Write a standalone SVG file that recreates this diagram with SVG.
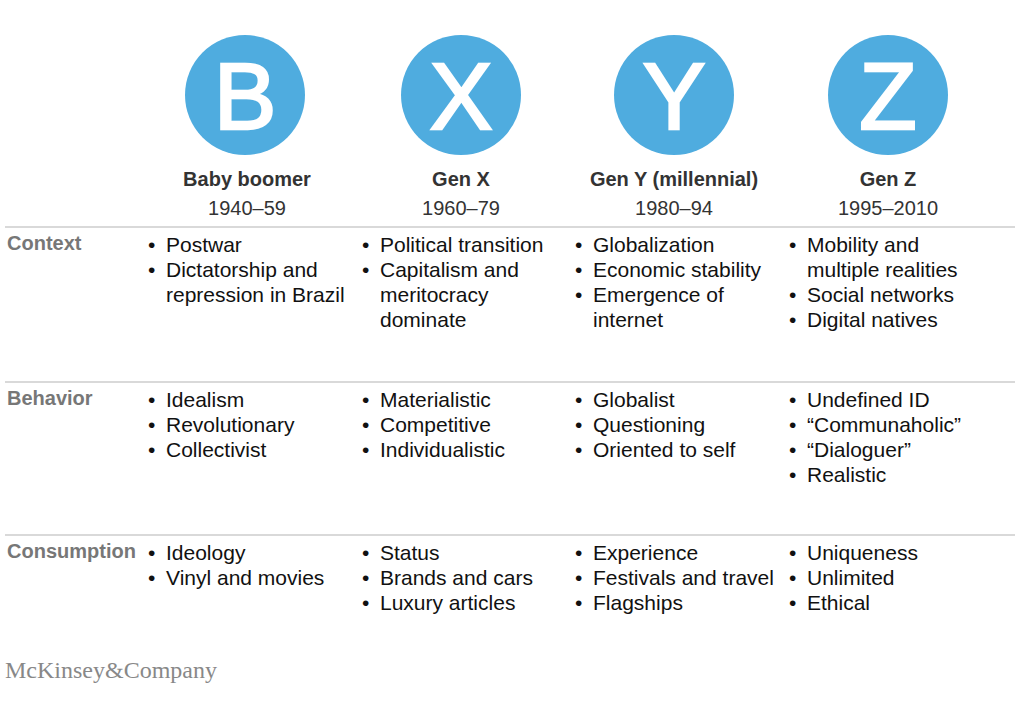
<svg xmlns="http://www.w3.org/2000/svg" width="1024" height="703" viewBox="0 0 1024 703">
<style>
.c{fill:#4facdf}
.L{font-family:"Liberation Sans",Arial,sans-serif;font-size:94px;fill:#fff;text-anchor:middle;stroke:#fff;stroke-width:2.5}
.h{font-family:"Liberation Sans",Arial,sans-serif;font-size:20px;font-weight:bold;fill:#333;text-anchor:middle}
.y{font-family:"Liberation Sans",Arial,sans-serif;font-size:20px;fill:#333;text-anchor:middle}
.r{font-family:"Liberation Sans",Arial,sans-serif;font-size:20px;fill:#777;font-weight:bold}
.t text{font-family:"Liberation Sans",Arial,sans-serif;font-size:21px;fill:#111}
.ln{stroke:#ccc;stroke-width:1.5}
</style>
<rect width="1024" height="703" fill="#fff"/>
<g id="gen-b"><circle class="c" cx="245" cy="95" r="60"/><text class="L" x="245" y="129">B</text><text class="h" x="247" y="186">Baby boomer</text><text class="y" x="247" y="215">1940–59</text></g>
<g id="gen-x"><circle class="c" cx="461" cy="95" r="60"/><text class="L" x="461" y="129">X</text><text class="h" x="461" y="186">Gen X</text><text class="y" x="461" y="215">1960–79</text></g>
<g id="gen-y"><circle class="c" cx="674" cy="95" r="60"/><text class="L" x="674" y="129">Y</text><text class="h" x="674" y="186">Gen Y (millennial)</text><text class="y" x="674" y="215">1980–94</text></g>
<g id="gen-z"><circle class="c" cx="888" cy="95" r="60"/><text class="L" x="888" y="129">Z</text><text class="h" x="888" y="186">Gen Z</text><text class="y" x="888" y="215">1995–2010</text></g>
<g id="lines"><line class="ln" x1="5" y1="227" x2="1015" y2="227"/><line class="ln" x1="5" y1="382" x2="1015" y2="382"/><line class="ln" x1="5" y1="535" x2="1015" y2="535"/></g>
<g id="labels"><text class="r" x="7" y="250">Context</text><text class="r" x="7" y="405">Behavior</text><text class="r" x="7" y="558">Consumption</text></g>
<g id="context" class="t">
<text x="148" y="252">•</text><text x="166" y="252">Postwar</text><text x="148" y="277">•</text><text x="166" y="277">Dictatorship and</text><text x="166" y="302">repression in Brazil</text>
<text x="362" y="252">•</text><text x="380" y="252">Political transition</text><text x="362" y="277">•</text><text x="380" y="277">Capitalism and</text><text x="380" y="302">meritocracy</text><text x="380" y="327">dominate</text>
<text x="575" y="252">•</text><text x="593" y="252">Globalization</text><text x="575" y="277">•</text><text x="593" y="277">Economic stability</text><text x="575" y="302">•</text><text x="593" y="302">Emergence of</text><text x="593" y="327">internet</text>
<text x="789" y="252">•</text><text x="807" y="252">Mobility and</text><text x="807" y="277">multiple realities</text><text x="789" y="302">•</text><text x="807" y="302">Social networks</text><text x="789" y="327">•</text><text x="807" y="327">Digital natives</text>
</g>
<g id="behavior" class="t">
<text x="148" y="407">•</text><text x="166" y="407">Idealism</text><text x="148" y="432">•</text><text x="166" y="432">Revolutionary</text><text x="148" y="457">•</text><text x="166" y="457">Collectivist</text>
<text x="362" y="407">•</text><text x="380" y="407">Materialistic</text><text x="362" y="432">•</text><text x="380" y="432">Competitive</text><text x="362" y="457">•</text><text x="380" y="457">Individualistic</text>
<text x="575" y="407">•</text><text x="593" y="407">Globalist</text><text x="575" y="432">•</text><text x="593" y="432">Questioning</text><text x="575" y="457">•</text><text x="593" y="457">Oriented to self</text>
<text x="789" y="407">•</text><text x="807" y="407">Undefined ID</text><text x="789" y="432">•</text><text x="807" y="432">“Communaholic”</text><text x="789" y="457">•</text><text x="807" y="457">“Dialoguer”</text><text x="789" y="482">•</text><text x="807" y="482">Realistic</text>
</g>
<g id="consumption" class="t">
<text x="148" y="560">•</text><text x="166" y="560">Ideology</text><text x="148" y="585">•</text><text x="166" y="585">Vinyl and movies</text>
<text x="362" y="560">•</text><text x="380" y="560">Status</text><text x="362" y="585">•</text><text x="380" y="585">Brands and cars</text><text x="362" y="610">•</text><text x="380" y="610">Luxury articles</text>
<text x="575" y="560">•</text><text x="593" y="560">Experience</text><text x="575" y="585">•</text><text x="593" y="585">Festivals and travel</text><text x="575" y="610">•</text><text x="593" y="610">Flagships</text>
<text x="789" y="560">•</text><text x="807" y="560">Uniqueness</text><text x="789" y="585">•</text><text x="807" y="585">Unlimited</text><text x="789" y="610">•</text><text x="807" y="610">Ethical</text>
</g>
<text x="5" y="678" font-family="Liberation Serif,serif" font-size="24" fill="#888">McKinsey&amp;Company</text>
</svg>
